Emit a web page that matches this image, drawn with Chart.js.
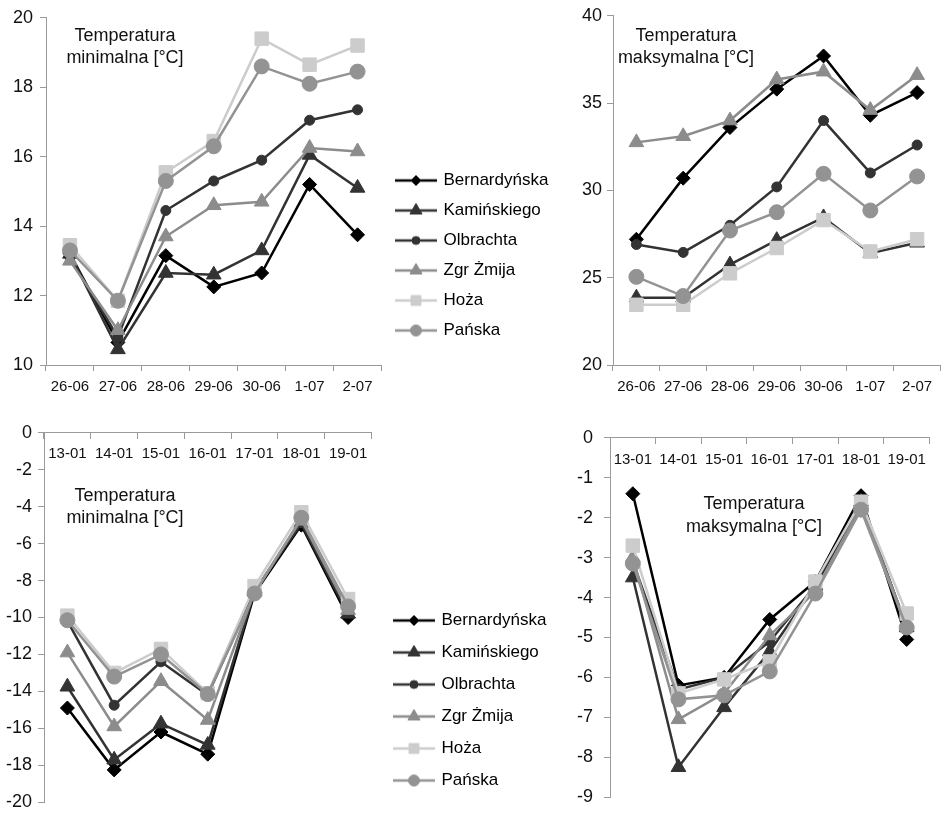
<!DOCTYPE html>
<html lang="pl">
<head>
<meta charset="utf-8">
<title>Temperatura minimalna i maksymalna</title>
<script src="https://cdn.jsdelivr.net/npm/chart.js"></script>
<style>
  html, body { margin: 0; padding: 0; background: #fff; }
  body { position: relative; width: 948px; height: 819px; overflow: hidden;
         font-family: "Liberation Sans", Arial, sans-serif; }
  canvas { position: absolute; }
  .note { position: absolute; width: 180px; text-align: center; font-size: 18px;
          line-height: 22px; color: #111; }
</style>
</head>
<body>

<canvas id="minSummer" width="392" height="400" style="left:0;top:0"></canvas>
<canvas id="maxSummer" width="391" height="400" style="left:560px;top:0"></canvas>
<canvas id="minWinter" width="382" height="403" style="left:0;top:416px"></canvas>
<canvas id="maxWinter" width="380" height="403" style="left:560px;top:416px"></canvas>
<canvas id="legendSummer" width="370" height="210" style="left:384px;top:159px"></canvas>
<canvas id="legendWinter" width="370" height="220" style="left:380px;top:597px"></canvas>

<div class="note" style="left:35px;top:24px">Temperatura<br>minimalna [°C]</div>
<div class="note" style="left:596px;top:24px">Temperatura<br>maksymalna [°C]</div>
<div class="note" style="left:35px;top:484px">Temperatura<br>minimalna [°C]</div>
<div class="note" style="left:664px;top:492px;line-height:23px">Temperatura<br>maksymalna [°C]</div>

<script>
// Stations, in the order used by every value array below
const stations = ['Bernardyńska', 'Kamińskiego', 'Olbrachta', 'Zgr Żmija', 'Hoża', 'Pańska'];

const summerDays = ['26-06', '27-06', '28-06', '29-06', '30-06', '1-07', '2-07'];
const winterDays = ['13-01', '14-01', '15-01', '16-01', '17-01', '18-01', '19-01'];

// Minimum temperature, summer [°C]
const summerMin = [
    [13.2, 10.65, 13.15, 12.25, 12.65, 15.2, 13.75],
    [13.2, 10.45, 12.65, 12.6, 13.3, 16.05, 15.1],
    [13.1, 10.8, 14.45, 15.3, 15.9, 17.05, 17.35],
    [13.0, 11.0, 13.7, 14.6, 14.7, 16.25, 16.15],
    [13.45, 11.85, 15.55, 16.45, 19.4, 18.65, 19.2],
    [13.3, 11.85, 15.3, 16.3, 18.6, 18.1, 18.45]
];

// Maximum temperature, summer [°C]
const summerMax = [
    [27.2, 30.7, 33.6, 35.8, 37.7, 34.3, 35.6],
    [23.85, 23.85, 25.75, 27.15, 28.45, 26.4, 27.0],
    [26.9, 26.45, 28.0, 30.2, 34.0, 31.0, 32.6],
    [32.75, 33.1, 34.0, 36.35, 36.8, 34.6, 36.6],
    [23.45, 23.45, 25.25, 26.7, 28.3, 26.5, 27.2],
    [25.05, 23.95, 27.7, 28.75, 30.95, 28.85, 30.8]
];

// Minimum temperature, winter [°C]
const winterMin = [
    [-14.9, -18.25, -16.2, -17.4, -8.7, -5.0, -10.0],
    [-13.75, -17.7, -15.75, -16.9, -8.6, -4.9, -9.8],
    [-10.2, -14.75, -12.4, -14.2, -8.6, -4.8, -9.7],
    [-11.9, -15.9, -13.45, -15.55, -8.6, -4.7, -9.6],
    [-9.9, -13.0, -11.7, -14.1, -8.3, -4.3, -9.0],
    [-10.15, -13.2, -12.0, -14.15, -8.7, -4.6, -9.4]
];

// Maximum temperature, winter [°C]
const winterMax = [
    [-1.4, -6.2, -6.0, -4.55, -3.6, -1.45, -5.05],
    [-3.5, -8.25, -6.75, -5.35, -3.7, -1.6, -4.75],
    [-3.1, -6.3, -6.0, -5.1, -3.7, -1.6, -4.75],
    [-3.0, -7.05, -6.4, -4.95, -3.85, -1.7, -4.7],
    [-2.7, -6.4, -6.05, -5.6, -3.6, -1.6, -4.4],
    [-3.15, -6.55, -6.45, -5.85, -3.9, -1.8, -4.75]
];

// Series styling
const lineColors = ['#000000', '#333333', '#333333', '#8c8c8c', '#cccccc', '#939393'];
const markerStyles = ['rectRot', 'triangle', 'circle', 'triangle', 'rect', 'circle'];
const markerSizes = [7, 8.5, 5, 8.5, 9.5, 7.5];
const legendMarkerSizes = [5, 7, 4, 7, 7, 5.5];

const AXIS = '#9a9a9a';
Chart.defaults.font.family = '"Liberation Sans", Arial, sans-serif';
Chart.defaults.color = '#111';

function makeDatasets(values) {
    return stations.map((name, i) => ({
        label: name,
        data: values[i],
        borderColor: lineColors[i],
        backgroundColor: lineColors[i],
        borderWidth: 2.5,
        pointStyle: markerStyles[i],
        pointRadius: markerSizes[i],
        pointBorderWidth: 1,
        pointBackgroundColor: lineColors[i],
        pointBorderColor: lineColors[i],
        tension: 0,
        order: stations.length - i   // later stations drawn on top
    }));
}

function makePanel(id, days, values, cfg) {
    new Chart(document.getElementById(id), {
        type: 'line',
        data: { labels: days, datasets: makeDatasets(values) },
        options: {
            responsive: false,
            animation: false,
            events: [],
            layout: { padding: cfg.padding },
            plugins: { legend: { display: false }, tooltip: { enabled: false } },
            scales: {
                x: {
                    type: 'category',
                    offset: true,
                    // winter charts: the category axis crosses at 0, on top
                    position: cfg.axisAtZero ? { y: 0 } : 'bottom',
                    border: { color: AXIS },
                    grid: { offset: true, drawOnChartArea: false, tickLength: 6, color: AXIS },
                    ticks: { font: { size: 15 }, padding: cfg.xPad, maxRotation: 0, autoSkip: false },
                    afterFit: s => { s.height = cfg.axisAtZero ? 0 : 35; }
                },
                y: {
                    min: cfg.min,
                    max: cfg.max,
                    border: { color: AXIS },
                    grid: { drawOnChartArea: false, tickLength: 6, color: AXIS },
                    ticks: { stepSize: cfg.step, font: { size: 18 }, padding: cfg.yPad },
                    afterFit: s => { s.width = cfg.yWidth; }
                }
            }
        }
    });
}

// Legend swatch: a short line with the series marker on it
function legendIcon(i) {
    const c = document.createElement('canvas');
    c.width = 42;
    c.height = 20;
    const ctx = c.getContext('2d');
    ctx.strokeStyle = lineColors[i];
    ctx.fillStyle = lineColors[i];
    ctx.lineWidth = 2.5;
    ctx.beginPath();
    ctx.moveTo(0, 10);
    ctx.lineTo(42, 10);
    ctx.stroke();
    ctx.lineWidth = 1;
    if (Chart.helpers && Chart.helpers.drawPoint) {
        Chart.helpers.drawPoint(ctx, {
            pointStyle: markerStyles[i], radius: legendMarkerSizes[i], rotation: 0, borderWidth: 1
        }, 21, 10);
    }
    return c;
}

function makeLegend(id, gap) {
    new Chart(document.getElementById(id), {
        type: 'line',
        data: { labels: [], datasets: [] },
        options: {
            responsive: false,
            animation: false,
            events: [],
            scales: { x: { display: false }, y: { display: false } },
            plugins: {
                tooltip: { enabled: false },
                legend: {
                    position: 'left',
                    align: 'start',
                    labels: {
                        usePointStyle: true,
                        pointStyleWidth: 38,
                        padding: gap,
                        color: '#000',
                        font: { size: 17 },
                        generateLabels: () => stations.map((name, i) => ({
                            text: name,
                            pointStyle: legendIcon(i),
                            fillStyle: lineColors[i],
                            strokeStyle: lineColors[i],
                            lineWidth: 0,
                            fontColor: '#000',
                            hidden: false,
                            datasetIndex: i
                        }))
                    }
                }
            }
        }
    });
}

makePanel('minSummer', summerDays, summerMin, {
    min: 10, max: 20, step: 2, yWidth: 46, yPad: 7, xPad: 7,
    padding: { top: 14, right: 0, bottom: 0, left: 0 }
});
makePanel('maxSummer', summerDays, summerMax, {
    min: 20, max: 40, step: 5, yWidth: 53, yPad: 5, xPad: 7,
    padding: { top: 15, right: 0, bottom: 0, left: 0 }
});
makePanel('minWinter', winterDays, winterMin, {
    min: -20, max: 0, step: 2, yWidth: 44, yPad: 6, xPad: 6, axisAtZero: true,
    padding: { top: 16, right: 0, bottom: 11, left: 0 }
});
makePanel('maxWinter', winterDays, winterMax, {
    min: -9, max: 0, step: 1, yWidth: 50, yPad: 11, xPad: 7, axisAtZero: true,
    padding: { top: 17, right: 0, bottom: 12, left: 0 }
});

makeLegend('legendSummer', 13);
makeLegend('legendWinter', 15);
</script>
</body>
</html>
